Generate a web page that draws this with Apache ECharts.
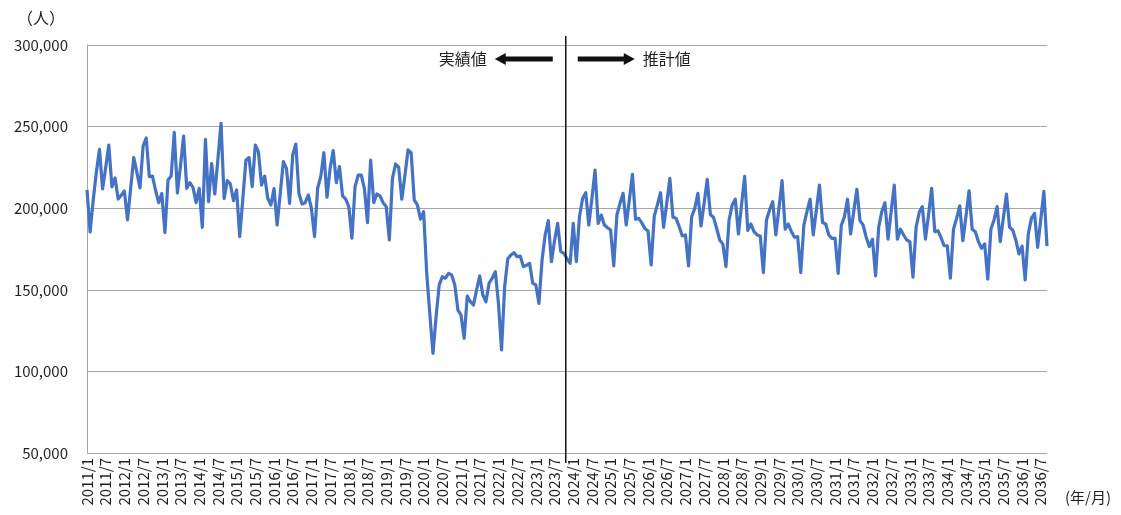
<!DOCTYPE html>
<html><head><meta charset="utf-8">
<script src="https://cdn.jsdelivr.net/npm/echarts@6/dist/echarts.min.js"></script>
<style>html,body{margin:0;padding:0;background:#fff}#c{width:1121px;height:515px}</style>
</head><body><div id="c"></div>
<script>
// Monthly values (persons), 2011/1 onward
const startYear = 2011, startMonth = 1;
const actual = [
211200,185400,205000,222000,236000,211800,225000,238700,213000,218500,205600,208000,
210500,192800,212000,231000,222000,212400,238000,243000,219300,219700,211000,203400,
209000,185000,217300,219700,246500,209300,226000,244200,212200,215700,212800,203400,
212200,188300,242200,204000,227400,208700,230000,252000,206000,216900,214800,204600,
211200,182600,206000,229500,231000,213200,238700,234600,214200,219700,206000,202000,
212000,189700,209000,228500,224400,203000,232600,239300,209000,202600,203400,208100,
199900,182600,212200,219300,234000,206700,224400,235300,215700,225500,207500,205500,
200900,181600,213200,220300,220300,212000,191200,229500,203400,208700,207500,203400,
201000,180600,218300,227100,225000,205500,220000,235700,234000,205000,202000,193300,
197900,160000,135000,111100,133500,153000,158000,157100,160100,159100,153000,137600,
134600,120300,146200,142700,140700,150000,158500,146800,142700,154000,157100,161100,
142000,113100,151900,169000,171300,172700,170300,170700,164200,165000,166200,154000,
153000,141700,168300,183600,192400,167200,180000,190700,173400,172400
];
const forecast = [
169000,166200,
190700,167200,194800,206000,209500,189700,206000,223400,190700,195800,189700,188000,
186600,164600,195800,203000,209100,189700,205000,220800,193200,193800,191000,187500,
186000,165200,195200,202000,209500,188300,203000,218300,194400,193800,188700,183000,
183600,164600,194800,199900,209100,189100,203000,217700,196100,194400,187700,180500,
178000,164200,192800,202000,205500,184200,202000,219500,186400,190300,185600,183600,
183000,160500,192800,198900,204000,183600,200000,216900,187100,190300,185600,182200,
182600,160500,189700,198000,205500,183600,199000,214200,191200,190300,183600,181500,
181600,160100,189400,194800,205500,184200,198000,211600,192400,189700,182200,176400,
181000,158500,188300,197900,203400,181000,198000,214200,181000,187100,183600,180500,
179500,157700,188300,197300,201000,181000,196000,212200,185600,186200,182000,177000,
177000,157100,187100,193800,201400,180100,195000,210700,187100,185600,179500,175400,
178100,156500,187100,192800,201000,179500,194000,208700,188300,186600,180500,172000,
176800,156000,184200,193800,196900,176000,193000,210300,176800
];
const yMin = 50000, yMax = 300000, yStep = 50000;
const dividerIndex = 153.6;          // boundary between 実績値 and 推計値 (category units)
const leftNote = '実績値', rightNote = '推計値';
const yUnit = '（人）', xUnit = '(年/月)';

const values = actual.concat(forecast);
const categories = values.map((v, i) => {
  const m = startMonth - 1 + i;
  return (startYear + Math.floor(m / 12)) + '/' + (m % 12 + 1);
});

const FONT = '"Noto Sans CJK JP", "Noto Sans", sans-serif';
const chart = echarts.init(document.getElementById('c'), null, {renderer: 'canvas'});
chart.setOption({
  animation: false,
  backgroundColor: '#fff',
  grid: {left: 87, right: 74, top: 45, bottom: 62, containLabel: false},
  xAxis: [{
    type: 'category', data: categories, boundaryGap: false,
    axisLine: {show: false}, axisTick: {show: false},
    axisLabel: {interval: 5, rotate: 90, fontSize: 15, color: '#231f20', margin: 5, fontFamily: FONT},
    splitLine: {show: false}
  }, {
    type: 'value', min: 0, max: values.length - 1, show: false
  }],
  yAxis: {
    type: 'value', min: yMin, max: yMax, interval: yStep,
    axisLine: {show: true, lineStyle: {color: '#a6a6a6', width: 1}},
    axisTick: {show: false},
    axisLabel: {fontSize: 15, color: '#231f20', margin: 19, fontFamily: FONT,
      formatter: v => v.toLocaleString('en-US')},
    splitLine: {lineStyle: {color: '#a6a6a6', width: 1}}
  },
  series: [{
    type: 'line', data: values, xAxisIndex: 0, showSymbol: false, symbol: 'none',
    lineStyle: {color: '#4472C4', width: 3.2, join: 'round'}, z: 3
  }, {
    type: 'line', data: [], xAxisIndex: 1, showSymbol: false
  }]
});

const dx = chart.convertToPixel({xAxisIndex: 1}, dividerIndex);
const yTop = chart.convertToPixel({yAxisIndex: 0}, yMax);
const yBot = chart.convertToPixel({yAxisIndex: 0}, yMin);
const ay = yTop + 14;
function arrow(x1, x2, headLeft) {
  const sh = 2.5, hh = 6, hl = 11;
  let pts;
  if (headLeft) {
    pts = [[x1, ay], [x1 + hl, ay - hh], [x1 + hl, ay - sh], [x2, ay - sh], [x2, ay + sh], [x1 + hl, ay + sh], [x1 + hl, ay + hh]];
  } else {
    pts = [[x2, ay], [x2 - hl, ay - hh], [x2 - hl, ay - sh], [x1, ay - sh], [x1, ay + sh], [x2 - hl, ay + sh], [x2 - hl, ay + hh]];
  }
  return {type: 'polygon', shape: {points: pts}, style: {fill: '#111'}, z: 10};
}
chart.setOption({
  graphic: [
    {type: 'line', shape: {x1: dx, y1: yTop - 9, x2: dx, y2: yBot + 10}, style: {stroke: '#111', lineWidth: 1.5}, z: 10},
    arrow(dx - 71, dx - 13, true),
    arrow(dx + 12, dx + 69, false),
    {type: 'text', x: dx - 79, y: ay, style: {text: leftNote, font: '16px ' + FONT, fill: '#231f20', align: 'right', verticalAlign: 'middle'}, z: 10},
    {type: 'text', x: dx + 77, y: ay, style: {text: rightNote, font: '16px ' + FONT, fill: '#231f20', align: 'left', verticalAlign: 'middle'}, z: 10},
    {type: 'text', x: 17, y: 18, style: {text: yUnit, font: '16px ' + FONT, fill: '#231f20', align: 'left', verticalAlign: 'middle'}, z: 10},
    {type: 'text', x: 1065, y: 497, style: {text: xUnit, font: '15px ' + FONT, fill: '#231f20', align: 'left', verticalAlign: 'middle'}, z: 10}
  ]
});
</script>
</body></html>
